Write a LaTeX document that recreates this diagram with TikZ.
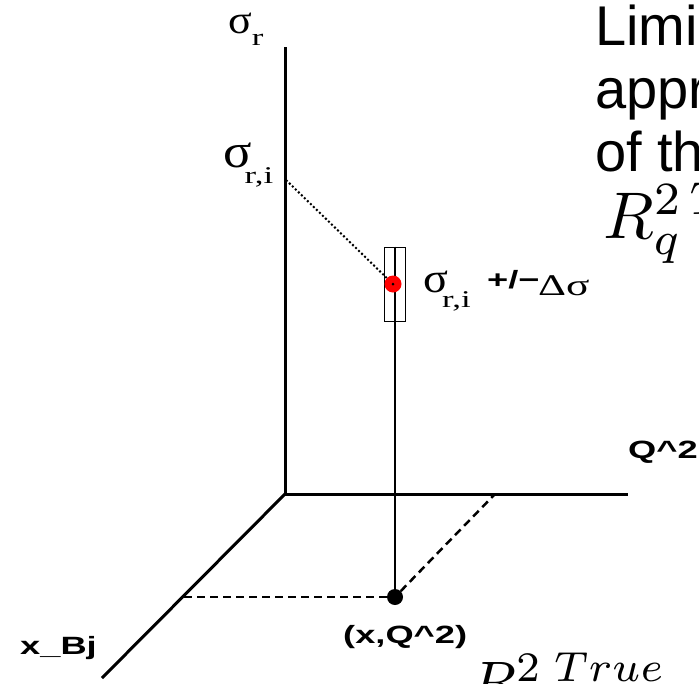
\documentclass[tikz,border=0pt]{standalone}
\usepackage{fontspec}
\newfontfamily\symbfont[FakeStretch=1.45]{Liberation Serif}
\newfontfamily\bigsigfont[FakeStretch=1.1]{Liberation Serif}
\newfontfamily\axisfont[FakeStretch=1.45]{Liberation Sans}
\newfontfamily\slidefont{Liberation Sans}
\usetikzlibrary{arrows.meta, positioning}
\newcommand{\fsz}[1]{\fontsize{#1}{#1}\selectfont}
\newcommand{\lowsub}[2]{\raisebox{-#1pt}{\symbfont\fsz{24}#2}}

\begin{document}
\begin{tikzpicture}[x=1pt, y=-1pt,
  axis/.style={line width=3pt},
  proj/.style={line width=2.5pt, dash pattern=on 8pt off 5pt},
  greek/.style={font=\bigsigfont, inner sep=0pt, anchor=base west},
  axlabel/.style={font=\axisfont\bfseries, inner sep=0pt, anchor=base west},
  slide/.style={font=\slidefont\fsz{56}, inner sep=0pt, anchor=base west},
  formula/.style={inner sep=0pt, anchor=base west}]

\useasboundingbox (0,0) rectangle (699,683);
\clip (0,0) rectangle (699,683);

% Axes
\coordinate (origin) at (285,494);
\coordinate (sigtop) at (285,47);
\coordinate (qend) at (628,494);
\coordinate (xend) at (102,678);
\draw[axis] (sigtop) -- (origin) -- (qend);
\draw[axis] (origin) -- (xend);

% Point in the (x,Q^2) plane and its projections
\node[circle, fill=black, minimum size=16pt, inner sep=0pt] (pt) at (395,597) {};
\coordinate (xfoot) at (180,597);
\coordinate (qfoot) at (495,494);
\draw[proj] (pt) -- (xfoot);
\draw[proj] (pt) -- (qfoot);

% Measurement with its error box
\node[draw, line width=1pt, minimum width=21pt, minimum height=74pt, inner sep=0pt] (errbox) at (395,284) {};
\draw[line width=1.2pt] (errbox.north) -- (pt.center);
\node[circle, fill=red, minimum size=17pt, inner sep=0pt] (meas) at (393,284) {};
\fill (meas.center) circle (1.5pt);
\coordinate (sigri) at (286,180);
\draw[line width=2pt, dash pattern=on 2pt off 2.2pt] (sigri) -- (meas);

% Labels
\node[greek] (sigrlab) at (228,33) {\fsz{40}σ\lowsub{12}{r}};
\node[greek] (sigrilab) at (223,167) {\fsz{48}σ\kern-7pt\lowsub{16}{r,i}};
\node[greek] (measlab) at (423,292) {\fsz{42}σ\kern-6pt\lowsub{15}{r,i}};
\node[axlabel] (pmlab) at (487,288) {\fsz{25}+/−};
\node[greek] (dsiglab) at (538,295) {\symbfont\fsz{30}Δσ};
\node[axlabel] (qlab) at (628,458) {\fsz{25}Q\textasciicircum 2};
\node[axlabel] (xlab) at (20,654) {\fsz{25}x\_Bj};
\node[axlabel] (ptlab) at (343,643) {\fsz{25}(x,Q\textasciicircum 2)};

% Slide text behind the picture
\node[slide] (line1) at (595,45) {Limi};
\node[slide] (line2) at (595,108) {appr};
\node[slide] (line3) at (595,171) {of th};
\fill[white] (585,173) rectangle (699,262);
\node[formula] (rqtrue) at (603,238) {\scalebox{6.6}{$R_q^{2\,True}$}};
\node[formula] (rtrue) at (470,703) {\scalebox{6}{$R^{2\;True}$}};
\end{tikzpicture}
\end{document}
